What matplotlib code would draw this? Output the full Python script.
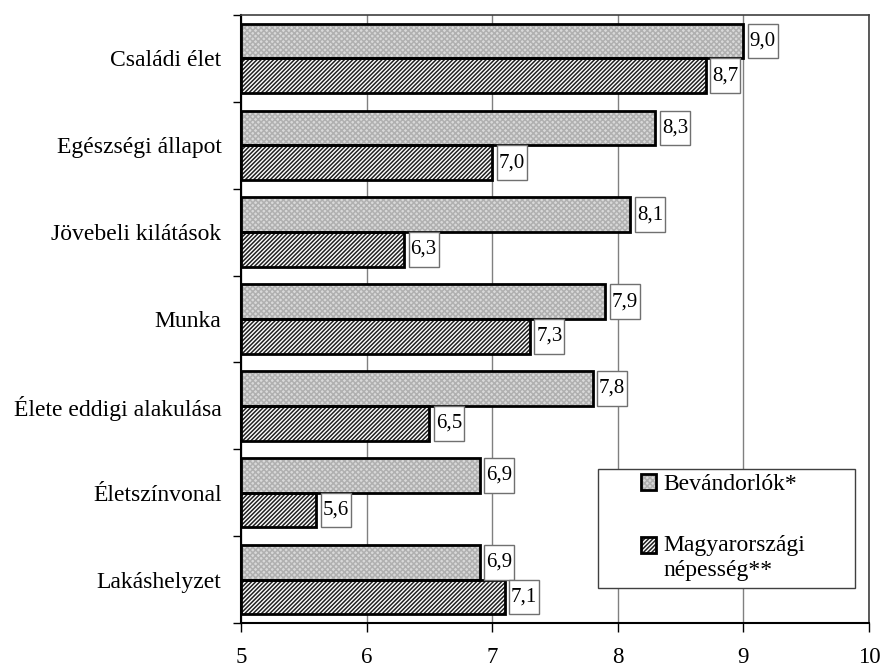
import matplotlib
matplotlib.use("Agg")
import matplotlib.pyplot as plt
import numpy as np
from matplotlib.patches import Patch, Rectangle
from matplotlib.legend_handler import HandlerTuple

plt.rcParams['font.family'] = ['Liberation Serif', 'DejaVu Serif']
plt.rcParams['hatch.linewidth'] = 1.1

categories = ["Családi élet", "Egészségi állapot", "Jövebeli kilátások", "Munka",
              "Élete eddigi alakulása", "Életszínvonal", "Lakáshelyzet"]
bevandorlok = [9.0, 8.3, 8.1, 7.9, 7.8, 6.9, 6.9]
magyar = [8.7, 7.0, 6.3, 7.3, 6.5, 5.6, 7.1]
series_names = ["Bevándorlók*", "Magyarországi\nnépesség**"]
xticks = [5, 6, 7, 8, 9, 10]


class ShiftedHandler(HandlerTuple):
    def __init__(self, dy=0.0, **kw):
        super().__init__(**kw)
        self.dy = dy

    def create_artists(self, legend, orig_handle, xdescent, ydescent, width,
                       height, fontsize, trans):
        return super().create_artists(legend, orig_handle, xdescent,
                                      ydescent - self.dy, width, height,
                                      fontsize, trans)


fig = plt.figure(figsize=(8.82, 6.68), dpi=100)
ax = fig.add_axes([241/882, 1-623/668, (869-241)/882, (623-15)/668])

y = np.arange(len(categories))
h = 0.4
base = 5

c1_face, c1_hatch, h1 = '#d9d9d9', '#b0b0b0', 'xxxxxx'
c2_face, c2_hatch, h2 = '#ffffff', '#202020', '////////'

b1 = np.array(bevandorlok)
b2 = np.array(magyar)

# hatched fill
ax.barh(y - h/2, b1 - base, left=base, height=h, color=c1_face, hatch=h1,
        edgecolor=c1_hatch, linewidth=0, zorder=3)
ax.barh(y + h/2, b2 - base, left=base, height=h, color=c2_face, hatch=h2,
        edgecolor=c2_hatch, linewidth=0, zorder=3)
# outlines
ax.barh(y - h/2, b1 - base, left=base, height=h, fill=False, edgecolor='black',
        linewidth=2.0, zorder=4)
ax.barh(y + h/2, b2 - base, left=base, height=h, fill=False, edgecolor='black',
        linewidth=2.0, zorder=4)

# value label boxes
gap = 0.035
bw = 0.24
for vals, off in ((b1, -h/2), (b2, h/2)):
    ax.barh(y + off, bw, left=vals + gap, height=h, color='white',
            edgecolor='#707070', linewidth=1.0, zorder=5)
    for yi, v in zip(y, vals):
        ax.text(v + gap + bw/2, yi + off, f"{v:.1f}".replace('.', ','),
                ha='center', va='center', fontsize=15, zorder=6)

ax.set_xlim(5, 10)
ax.set_ylim(len(categories) - 0.5, -0.5)
ax.set_xticks(xticks)
ax.set_xticklabels([str(t) for t in xticks], fontsize=16.5)
ax.set_yticks(y)
ax.set_yticklabels(categories, fontsize=17)
ax.set_yticks(np.arange(len(categories) + 1) - 0.5, minor=True)
ax.tick_params(axis='y', which='major', length=0, pad=14)
ax.tick_params(axis='y', which='minor', length=6, width=1, direction='out')
ax.tick_params(axis='x', length=6.5, width=1, direction='out', pad=11)

ax.grid(axis='x', color='#808080', linewidth=1.0, zorder=0)
ax.set_axisbelow(True)
for s in ['top', 'right']:
    ax.spines[s].set_color('#404040')
    ax.spines[s].set_linewidth(1.2)
ax.spines['left'].set_linewidth(1.5)
ax.spines['bottom'].set_linewidth(1.5)

# legend
fx0 = (598 - 241) / 628
fy0 = (623 - 588) / 608
fw = (855 - 598) / 628
fh = (588 - 469) / 608
ax.add_patch(Rectangle((fx0, fy0), fw, fh, transform=ax.transAxes,
                       facecolor='white', edgecolor='#404040', linewidth=1.0, zorder=7))

hand1 = (Patch(facecolor=c1_face, hatch=h1, edgecolor=c1_hatch, linewidth=0),
         Patch(fill=False, edgecolor='black', linewidth=2.0))
hand2 = (Patch(facecolor=c2_face, hatch=h2, edgecolor=c2_hatch, linewidth=0),
         Patch(fill=False, edgecolor='black', linewidth=2.0))
leg = ax.legend([hand1, hand2], series_names,
                handler_map={hand1: HandlerTuple(ndivide=1, pad=0),
                             hand2: ShiftedHandler(dy=9.0, ndivide=1, pad=0)},
                loc='upper left', bbox_to_anchor=((641 - 241) / 628, (623 - 474) / 608),
                frameon=False, fontsize=17, handlelength=0.65, handleheight=0.65,
                handletextpad=0.3, labelspacing=1.7, borderpad=0, borderaxespad=0)
leg.set_zorder(8)

fig.savefig("out.png", dpi=100)
